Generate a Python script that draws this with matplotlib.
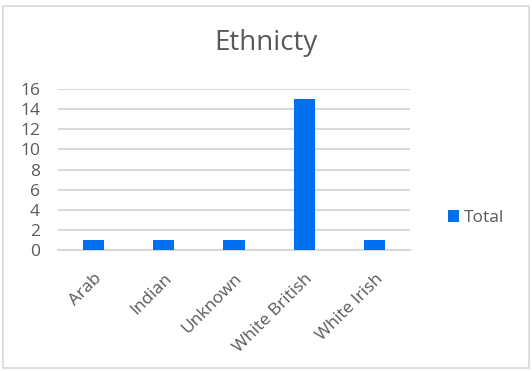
import matplotlib
matplotlib.use("Agg")
import matplotlib.pyplot as plt
from matplotlib.patches import Rectangle

categories = ["Arab", "Indian", "Unknown", "White British", "White Irish"]
totals = [1, 1, 1, 15, 1]
y_ticks = [0, 2, 4, 6, 8, 10, 12, 14, 16]

text_color = "#595959"
bar_color = "#0070F0"
grid_color = "#D9D9D9"

plt.rcParams["font.family"] = ["Open Sans", "DejaVu Sans"]

W, H = 532, 371
fig = plt.figure(figsize=(W / 100, H / 100), dpi=100)
ax = fig.add_axes([58 / W, 1 - 250 / H, 352 / W, 161 / H])

x = list(range(len(categories)))
ax.bar(x, totals, width=0.3, color=bar_color, label="Total", zorder=3)

ax.set_xlim(-0.5, len(categories) - 0.5)
ax.set_ylim(0, 16)
ax.set_yticks(y_ticks)
ax.set_xticks(x)
ax.set_xticklabels(categories, rotation=45, ha="right", rotation_mode="anchor")
ax.tick_params(axis="both", length=0, colors=text_color, labelsize=12.5)
ax.tick_params(axis="y", pad=13)
ax.tick_params(axis="x", pad=15)
ax.grid(axis="y", color=grid_color, linewidth=1.5, zorder=0)
for side in ["top", "right", "left"]:
    ax.spines[side].set_visible(False)
ax.spines["bottom"].set_color(grid_color)
ax.spines["bottom"].set_linewidth(1.5)

fig.text(266 / W, 1 - 43 / H, "Ethnicty", ha="center", va="center",
         fontsize=20, color=text_color)

fig.legend(loc="center left", bbox_to_anchor=(432 / W, 1 - 218 / H),
           frameon=False, fontsize=12.5, labelcolor=text_color,
           handlelength=0.65, handleheight=0.65, handletextpad=0.3)

fig.patches.append(Rectangle((3 / W, 1 - 368 / H), 526 / W, 362 / H,
                             transform=fig.transFigure, fill=False,
                             edgecolor=grid_color, linewidth=1.2))

fig.savefig("out.png", dpi=100)
